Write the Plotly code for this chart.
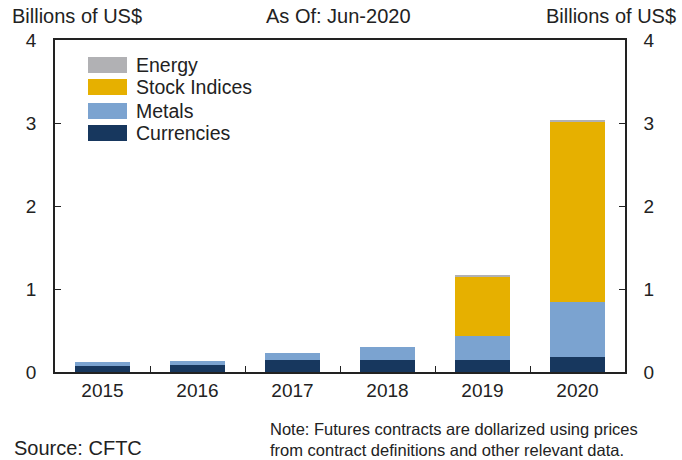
import plotly.graph_objects as go

years = ["2015", "2016", "2017", "2018", "2019", "2020"]
currencies = [0.07, 0.088, 0.145, 0.145, 0.148, 0.185]
metals = [0.045, 0.045, 0.08, 0.155, 0.29, 0.66]
stock_indices = [0.0, 0.0, 0.0, 0.0, 0.71, 2.17]
energy = [0.0, 0.0, 0.0, 0.0, 0.02, 0.02]

series = [
    ("Currencies", currencies, "#17375e"),
    ("Metals", metals, "#7ba3d0"),
    ("Stock Indices", stock_indices, "#e6b000"),
    ("Energy", energy, "#b1b1b4"),
]

FONT = "Liberation Sans, Arial, sans-serif"
TICK_SIZE = 19

fig = go.Figure()
for name, vals, color in series:
    fig.add_trace(go.Bar(x=years, y=vals, name=name, marker_color=color,
                         marker_line_width=0, showlegend=False))

# invisible trace so the right-hand axis is drawn
fig.add_trace(go.Scatter(x=years, y=[0] * len(years), yaxis="y2", mode="markers",
                         marker_opacity=0, showlegend=False, hoverinfo="skip"))

fig.update_layout(
    width=682, height=460,
    margin=dict(l=55, r=57, t=40, b=88),
    barmode="stack", bargap=0.43,
    plot_bgcolor="white", paper_bgcolor="white",
    font=dict(family=FONT, size=TICK_SIZE, color="#222222"),
    xaxis=dict(range=[-0.5, 5.5], showline=True, linecolor="#222222", linewidth=1.5,
               mirror=True, ticks="inside", tickson="boundaries", ticklen=6,
               tickcolor="#222222", showgrid=False, tickfont=dict(size=TICK_SIZE)),
    yaxis=dict(range=[0, 4], dtick=1, showline=True, linecolor="#222222", linewidth=1.5,
               ticks="inside", ticklen=6, tickcolor="#222222", showgrid=False,
               zeroline=False, ticklabelstandoff=13, tickfont=dict(size=TICK_SIZE)),
    yaxis2=dict(range=[0, 4], dtick=1, overlaying="y", side="right", showline=True,
                linecolor="#222222", linewidth=1.5, ticks="inside", ticklen=6,
                tickcolor="#222222", showgrid=False, zeroline=False,
                ticklabelstandoff=13, tickfont=dict(size=TICK_SIZE)),
)

# legend drawn as swatches plus labels, top entry first
legend_rows = [("Energy", "#b1b1b4"), ("Stock Indices", "#e6b000"),
               ("Metals", "#7ba3d0"), ("Currencies", "#17375e")]
row_tops = [57, 79, 103, 125]
for (label, color), top in zip(legend_rows, row_tops):
    fig.add_shape(type="rect", xref="paper", yref="paper",
                  x0=(88 - 55) / 570, x1=(127 - 55) / 570,
                  y0=(372 - (top + 16)) / 332, y1=(372 - top) / 332,
                  fillcolor=color, line_width=0)
    fig.add_annotation(text=label, xref="paper", yref="paper",
                       x=(134 - 55) / 570, y=(372 - (top + 8)) / 332,
                       xanchor="left", yanchor="middle", showarrow=False,
                       font=dict(size=19.5, family=FONT, color="#222222"))

header_y = (372 - 16) / 332
fig.add_annotation(text="Billions of US$", xref="paper", yref="paper",
                   x=(10 - 55) / 570, y=header_y, xanchor="left", yanchor="middle",
                   showarrow=False, font=dict(size=20))
fig.add_annotation(text="As Of: Jun-2020", xref="paper", yref="paper",
                   x=(338 - 55) / 570, y=header_y, xanchor="center", yanchor="middle",
                   showarrow=False, font=dict(size=20))
fig.add_annotation(text="Billions of US$", xref="paper", yref="paper",
                   x=(678 - 55) / 570, y=header_y, xanchor="right", yanchor="middle",
                   showarrow=False, font=dict(size=20))

fig.add_annotation(text="Source: CFTC", xref="paper", yref="paper",
                   x=(12 - 55) / 570, y=(372 - 448) / 332, xanchor="left", yanchor="middle",
                   showarrow=False, font=dict(size=20))
fig.add_annotation(text="Note: Futures contracts are dollarized using prices<br>"
                        "from contract definitions and other relevant data.",
                   xref="paper", yref="paper", x=(268 - 55) / 570, y=(372 - 439) / 332,
                   xanchor="left", yanchor="middle", align="left", showarrow=False,
                   font=dict(size=16.5))

fig.write_html("out.html")
